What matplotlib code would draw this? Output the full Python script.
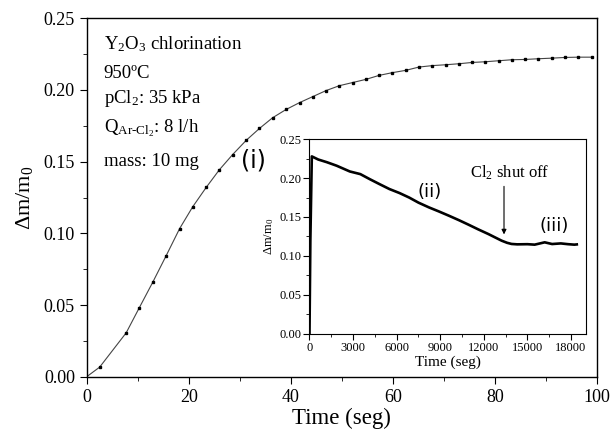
import matplotlib.pyplot as plt
from matplotlib.ticker import MultipleLocator

plt.rcParams['font.family'] = ['Liberation Serif', 'DejaVu Serif']
plt.rcParams['mathtext.fontset'] = 'custom'
plt.rcParams['mathtext.rm'] = 'Liberation Serif'
plt.rcParams['mathtext.it'] = 'Liberation Serif'

# main curve: chlorination of Y2O3
t_main = [0, 2.54, 7.73, 10.27, 12.95, 15.55, 18.2, 20.76, 23.4, 26.0, 28.6,
          31.25, 33.85, 36.4, 39.06, 41.7, 44.3, 46.9, 49.5, 52.1, 54.7,
          57.3, 59.9, 62.5, 65.1, 67.7, 70.3, 72.9, 75.5, 78.1, 80.7, 83.3,
          85.9, 88.5, 91.1, 93.7, 96.3, 98.9]
dm_main = [0.0, 0.0067, 0.0306, 0.0479, 0.066, 0.0843, 0.1033, 0.1185, 0.132,
           0.1444, 0.155, 0.1649, 0.1732, 0.1806, 0.1864, 0.1912, 0.1954,
           0.1996, 0.203, 0.2052, 0.2074, 0.2102, 0.2121, 0.2137, 0.216,
           0.217, 0.2176, 0.2183, 0.2192, 0.2197, 0.2204, 0.2211, 0.2213,
           0.2218, 0.2222, 0.2227, 0.2229, 0.2229]

# inset: long run, Cl2 shut off at ~13400 s
t_ins = [0, 60, 160, 600, 1200, 1870, 2775, 3500, 4140, 4800, 5500, 6200,
         6865, 7500, 8230, 8900, 9590, 10300, 10960, 11600, 12320, 12800,
         13230, 13600, 13910, 14300, 15000, 15500, 16190, 16700, 17300,
         17800, 18230, 18400]
dm_ins = [0.0, 0.12, 0.228, 0.224, 0.2205, 0.216, 0.2086, 0.2052, 0.1988,
          0.1925, 0.186, 0.1808, 0.175, 0.1685, 0.1623, 0.1572, 0.1517,
          0.1458, 0.140, 0.1342, 0.128, 0.1235, 0.1195, 0.1168, 0.1153,
          0.1148, 0.1150, 0.1144, 0.1174, 0.1152, 0.1160, 0.1150, 0.1144,
          0.1147]

fig = plt.figure(figsize=(6.12, 4.36), dpi=100)
ax = fig.add_axes([0.1417, 0.136, 0.834, 0.822])

ax.plot(t_main, dm_main, color='#444444', lw=0.8, marker='s', ms=1.6,
        mfc='black', mec='black', markevery=range(1, len(t_main)))
ax.set_xlim(0, 100)
ax.set_ylim(0, 0.25)
ax.xaxis.set_major_locator(MultipleLocator(20))
ax.xaxis.set_minor_locator(MultipleLocator(10))
ax.yaxis.set_major_locator(MultipleLocator(0.05))
ax.yaxis.set_minor_locator(MultipleLocator(0.025))
ax.yaxis.set_major_formatter(lambda v, p: f'{v:.2f}')
ax.tick_params(which='both', direction='out', top=False, right=False,
               labelsize=13)
ax.tick_params(which='major', length=5)
ax.tick_params(which='minor', length=3)
for s in ax.spines.values():
    s.set_linewidth(1.0)
ax.set_xlabel('Time (seg)', fontsize=16.5, labelpad=2)
ax.set_ylabel(r'$\Delta$m/m$_0$', fontsize=16, labelpad=6)

txt = [r'Y$_2$O$_3$ chlorination', '950ºC', r'pCl$_2$: 35 kPa',
       r'Q$_{\rm Ar\text{-}Cl_2}$: 8 l/h', 'mass: 10 mg']
ys = [0.232, 0.2113, 0.194, 0.173, 0.150]
for s_, y_ in zip(txt, ys):
    ax.text(3.3, y_, s_, fontsize=13.5, va='center', ha='left')
ax.text(32.6, 0.151, '(i)', fontsize=17, family='DejaVu Sans',
        ha='center', va='center')

ins = fig.add_axes([0.5057, 0.235, 0.451, 0.4455])
ins.plot(t_ins, dm_ins, color='black', lw=1.9)
ins.set_xlim(0, 19000)
ins.set_ylim(0, 0.25)
ins.xaxis.set_major_locator(MultipleLocator(3000))
ins.xaxis.set_minor_locator(MultipleLocator(1500))
ins.yaxis.set_major_locator(MultipleLocator(0.05))
ins.yaxis.set_minor_locator(MultipleLocator(0.025))
ins.yaxis.set_major_formatter(lambda v, p: f'{v:.2f}')
ins.tick_params(which='both', direction='out', top=False, right=False,
                labelsize=9, pad=2)
ins.tick_params(which='major', length=4)
ins.tick_params(which='minor', length=2)
ins.set_xlabel('Time (seg)', fontsize=11, labelpad=1)
ins.set_ylabel(r'$\Delta$m/m$_0$', fontsize=9, labelpad=2)
ins.text(8280, 0.182, '(ii)', fontsize=13, family='DejaVu Sans',
         ha='center', va='center')
ins.text(16870, 0.139, '(iii)', fontsize=13, family='DejaVu Sans',
         ha='center', va='center')
ins.text(13800, 0.207, r'Cl$_2$ shut off', fontsize=12, ha='center',
         va='center')
ins.annotate('', xy=(13390, 0.124), xytext=(13390, 0.193),
             arrowprops=dict(arrowstyle='-|>', color='black', lw=0.8,
                             mutation_scale=7))

fig.savefig('out.png', dpi=100)
